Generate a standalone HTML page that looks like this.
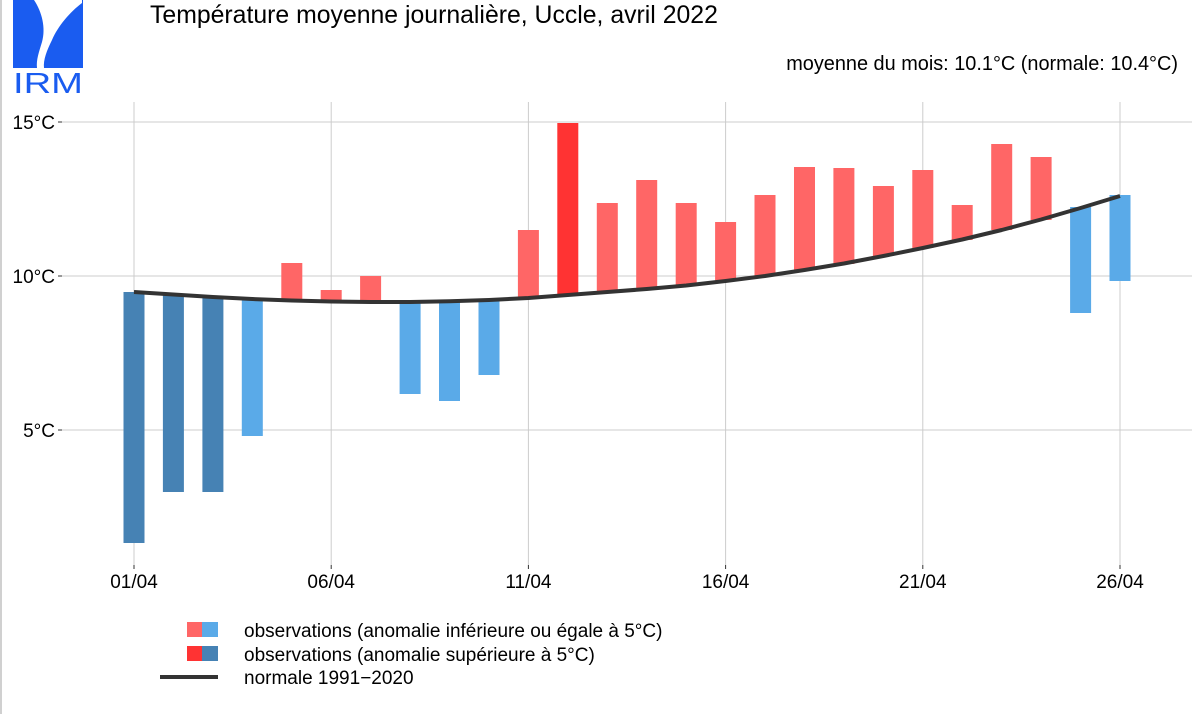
<!DOCTYPE html>
<html><head><meta charset="utf-8"><style>
html,body{margin:0;padding:0;background:#fff;}
svg{display:block;font-family:"Liberation Sans",Arial,sans-serif;}
</style></head><body>
<svg width="1200" height="714" viewBox="0 0 1200 714" xmlns="http://www.w3.org/2000/svg">
<rect width="1200" height="714" fill="#fff"/>
<line x1="1" y1="0" x2="1" y2="714" stroke="#d0d0d0" stroke-width="2"/>
<rect x="13" y="0" width="70" height="68" fill="#1a5cf0"/>
<path d="M34,0 C42,12 46,28 42,42 C39,52 36,60 37,68 L44,68 C43,60 47,50 52,40 C58,26 70,12 82,3 L82,0 Z" fill="#fff"/>
<text x="13" y="93" font-size="29" fill="#1a5cf0" textLength="70" lengthAdjust="spacingAndGlyphs">IRM</text>
<text x="150" y="23" font-size="24.8" fill="#000">Température moyenne journalière, Uccle, avril 2022</text>
<text x="1178" y="70" text-anchor="end" font-size="19.9" fill="#000">moyenne du mois: 10.1°C (normale: 10.4°C)</text>
<g stroke="#cccccc" stroke-width="1">
<line x1="62" y1="122" x2="1192" y2="122"/>
<line x1="62" y1="276" x2="1192" y2="276"/>
<line x1="62" y1="430" x2="1192" y2="430"/>
<line x1="134" y1="102" x2="134" y2="565"/>
<line x1="331.2" y1="102" x2="331.2" y2="565"/>
<line x1="528.4" y1="102" x2="528.4" y2="565"/>
<line x1="725.6" y1="102" x2="725.6" y2="565"/>
<line x1="922.8" y1="102" x2="922.8" y2="565"/>
<line x1="1120" y1="102" x2="1120" y2="565"/>
</g>
<g stroke="#333" stroke-width="1">
<line x1="58" y1="122" x2="62" y2="122"/><line x1="58" y1="276" x2="62" y2="276"/><line x1="58" y1="430" x2="62" y2="430"/>
<line x1="134" y1="565" x2="134" y2="569"/><line x1="331.2" y1="565" x2="331.2" y2="569"/><line x1="528.4" y1="565" x2="528.4" y2="569"/>
<line x1="725.6" y1="565" x2="725.6" y2="569"/><line x1="922.8" y1="565" x2="922.8" y2="569"/><line x1="1120" y1="565" x2="1120" y2="569"/>
</g>
<g font-size="19" fill="#000" text-anchor="end">
<text x="55" y="129">15°C</text><text x="55" y="283">10°C</text><text x="55" y="437">5°C</text>
</g>
<g font-size="19" fill="#000" text-anchor="middle">
<text x="134" y="588">01/04</text><text x="331.2" y="588">06/04</text><text x="528.4" y="588">11/04</text>
<text x="725.6" y="588">16/04</text><text x="922.8" y="588">21/04</text><text x="1120" y="588">26/04</text>
</g>
<g>
<rect x="123.5" y="292" width="21" height="251" fill="#4682b4"/>
<rect x="162.9" y="295" width="21" height="197" fill="#4682b4"/>
<rect x="202.4" y="297" width="21" height="195" fill="#4682b4"/>
<rect x="241.8" y="299" width="21" height="137" fill="#5aaae8"/>
<rect x="281.3" y="263" width="21" height="36" fill="#ff6666"/>
<rect x="320.7" y="290" width="21" height="10" fill="#ff6666"/>
<rect x="360.1" y="276" width="21" height="25" fill="#ff6666"/>
<rect x="399.6" y="302" width="21" height="92" fill="#5aaae8"/>
<rect x="439" y="302" width="21" height="99" fill="#5aaae8"/>
<rect x="478.5" y="300" width="21" height="75" fill="#5aaae8"/>
<rect x="517.9" y="230" width="21" height="68" fill="#ff6666"/>
<rect x="557.3" y="123" width="21" height="172" fill="#ff3333"/>
<rect x="596.8" y="203" width="21" height="89" fill="#ff6666"/>
<rect x="636.2" y="180" width="21" height="109" fill="#ff6666"/>
<rect x="675.7" y="203" width="21" height="83" fill="#ff6666"/>
<rect x="715.1" y="222" width="21" height="59" fill="#ff6666"/>
<rect x="754.5" y="195" width="21" height="81" fill="#ff6666"/>
<rect x="794" y="167" width="21" height="103" fill="#ff6666"/>
<rect x="833.4" y="168" width="21" height="96" fill="#ff6666"/>
<rect x="872.9" y="186" width="21" height="70" fill="#ff6666"/>
<rect x="912.3" y="170" width="21" height="78" fill="#ff6666"/>
<rect x="951.7" y="205" width="21" height="35" fill="#ff6666"/>
<rect x="991.2" y="144" width="21" height="86" fill="#ff6666"/>
<rect x="1030.6" y="157" width="21" height="63" fill="#ff6666"/>
<rect x="1070.1" y="207" width="21" height="106" fill="#5aaae8"/>
<rect x="1109.5" y="195" width="21" height="86" fill="#5aaae8"/>
</g>
<polyline fill="none" stroke="#333" stroke-width="4" stroke-linejoin="round" points="134,292 173.4,294.5 212.9,297 252.3,299 291.8,300.5 331.2,301.5 370.6,302 410.1,302 449.5,301.3 489,300 528.4,298 567.8,295 607.3,292 646.7,289 686.2,285.5 725.6,281 765,276 804.5,270 843.9,263.5 883.4,256 922.8,248 962.2,239.5 1001.7,230 1041.1,219.5 1080.6,208 1120,196"/>
<rect x="187" y="622" width="15" height="15" fill="#ff6666"/><rect x="202" y="622" width="16" height="15" fill="#5aaae8"/>
<rect x="187" y="646" width="15" height="15" fill="#ff3333"/><rect x="202" y="646" width="16" height="15" fill="#4682b4"/>
<line x1="160" y1="677" x2="218" y2="677" stroke="#333" stroke-width="4"/>
<g font-size="19" fill="#000">
<text x="244" y="637">observations (anomalie inférieure ou égale à 5°C)</text>
<text x="244" y="661">observations (anomalie supérieure à 5°C)</text>
<text x="244" y="684">normale 1991−2020</text>
</g>
</svg>
</body></html>
